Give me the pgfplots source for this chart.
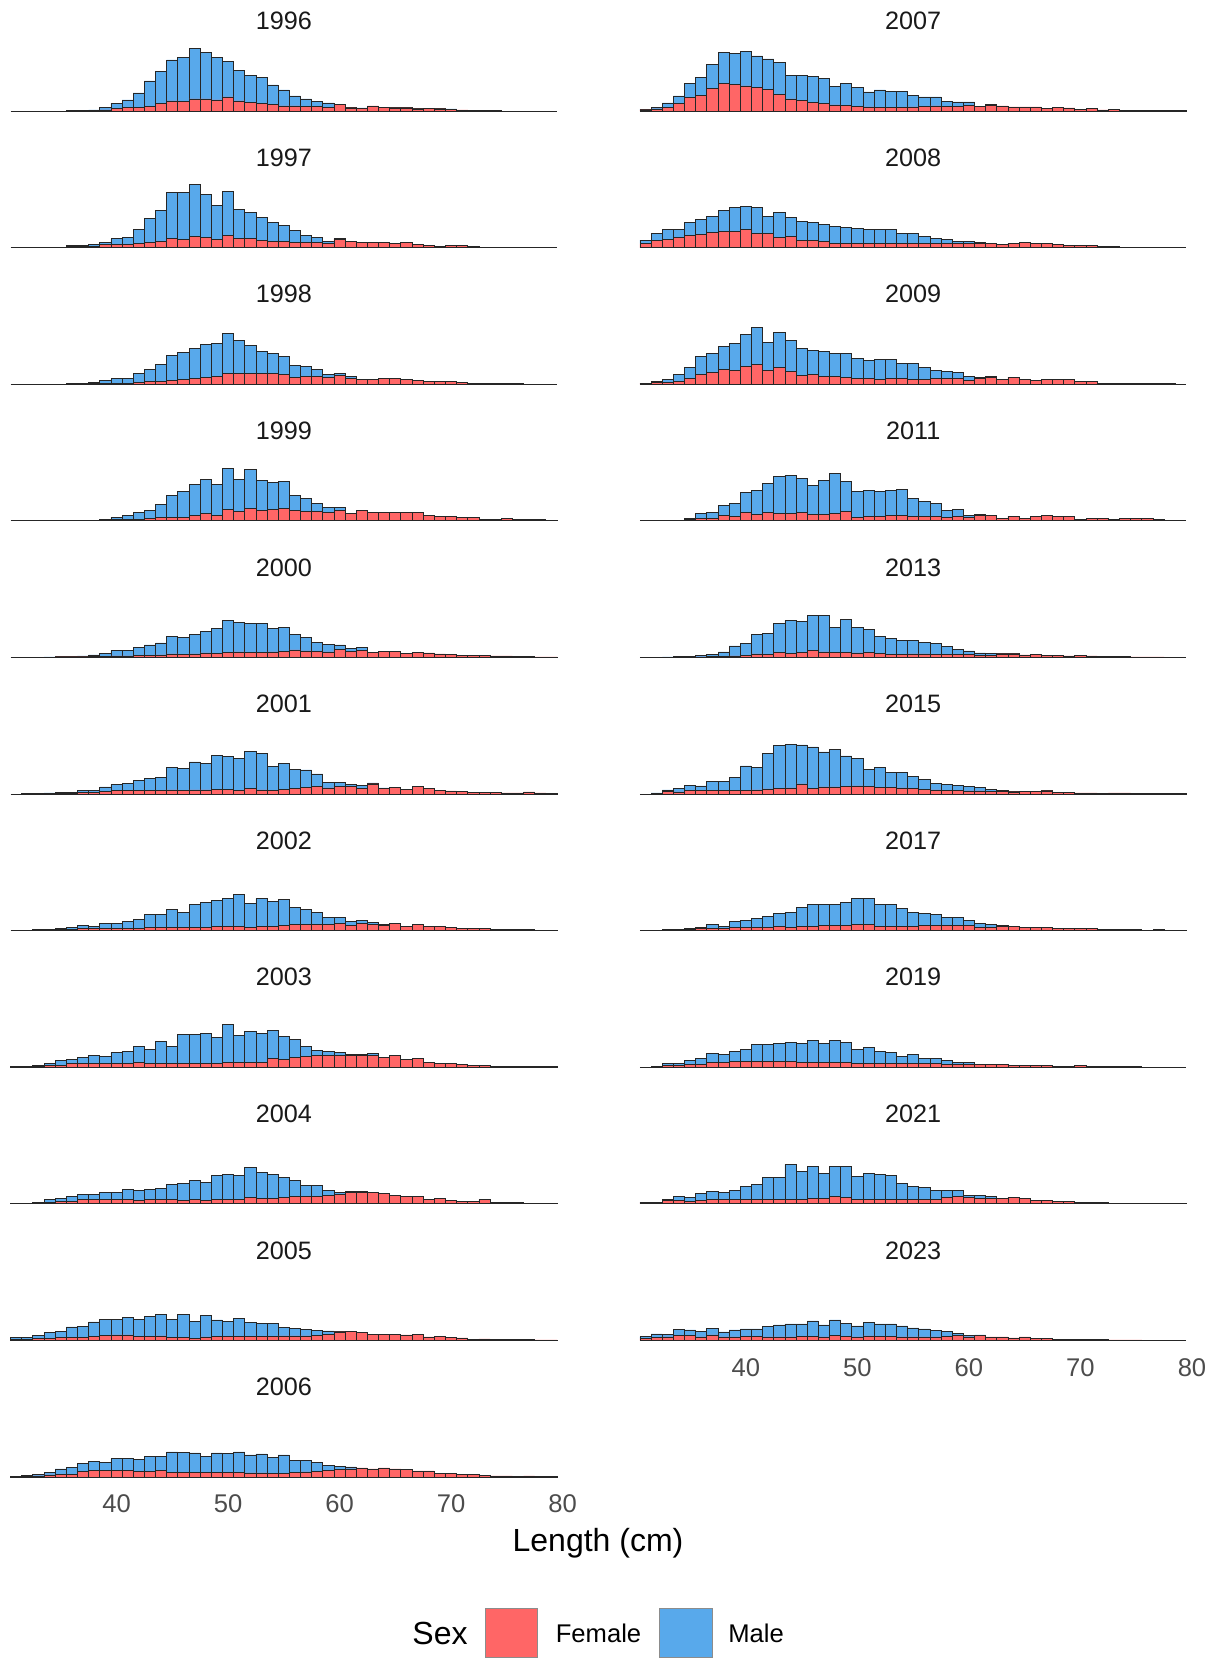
\documentclass[border=0pt]{standalone}
\usepackage{fontspec}
\setmainfont{Liberation Sans}
\usepackage{pgfplots}
\pgfplotsset{compat=1.18}
\usepackage{pgfplotstable}
\usepgfplotslibrary{groupplots}

\definecolor{fem}{HTML}{FF6666}
\definecolor{mal}{HTML}{58A9EB}
\definecolor{edge}{HTML}{262626}

% length bins (cm), female and male counts per bin (arbitrary units)
\pgfplotstableread[row sep=\\]{x f m\\
31 0 0\\32 0 0\\33 0 0\\34 0 0\\35 0 0\\36 0 1\\37 0 1\\38 0 3\\39 3 7\\40 8 15\\
41 10 23\\42 10 44\\43 13 77\\44 23 95\\45 30 123\\46 28 132\\47 36 152\\48 36 140\\49 33 127\\50 42 107\\
51 30 91\\52 25 81\\53 23 77\\54 20 58\\55 15 48\\56 15 30\\57 13 23\\58 13 15\\59 11 13\\60 19 0\\
61 9 2\\62 8 1\\63 15 0\\64 10 1\\65 9 1\\66 9 1\\67 6 1\\68 7 1\\69 6 1\\70 5 1\\
71 3 0\\72 2 0\\73 1 0\\74 1 0\\75 0 0\\76 0 0\\77 0 0\\78 0 0\\79 0 0\\
}\tabA
\pgfplotstableread[row sep=\\]{x f m\\
31 0 0\\32 0 0\\33 0 0\\34 0 0\\35 0 1\\36 2 3\\37 3 4\\38 4 6\\39 8 7\\40 10 16\\
41 10 20\\42 13 40\\43 16 72\\44 18 92\\45 27 139\\46 24 140\\47 34 154\\48 30 130\\49 24 102\\50 37 131\\
51 27 88\\52 27 79\\53 21 70\\54 18 56\\55 18 49\\56 16 34\\57 16 19\\58 15 14\\59 12 7\\60 25 2\\
61 17 2\\62 16 0\\63 16 0\\64 15 0\\65 12 0\\66 16 0\\67 8 0\\68 6 0\\69 4 0\\70 6 0\\
71 6 0\\72 2 0\\73 1 0\\74 1 0\\75 1 0\\76 1 0\\77 0 0\\78 0 0\\79 0 0\\
}\tabB
\pgfplotstableread[row sep=\\]{x f m\\
31 0 0\\32 0 0\\33 0 0\\34 0 0\\35 0 0\\36 0 1\\37 1 2\\38 1 4\\39 2 9\\40 3 13\\
41 3 15\\42 6 26\\43 7 36\\44 9 49\\45 11 76\\46 14 82\\47 17 91\\48 20 99\\49 22 101\\50 32 121\\
51 32 98\\52 32 84\\53 32 67\\54 32 61\\55 29 55\\56 20 35\\57 22 32\\58 24 20\\59 20 8\\60 26 7\\
61 18 6\\62 13 0\\63 13 0\\64 17 0\\65 16 0\\66 14 0\\67 11 0\\68 9 0\\69 7 0\\70 7 0\\
71 4 0\\72 3 0\\73 3 0\\74 2 0\\75 1 0\\76 1 0\\77 0 0\\78 0 0\\79 0 0\\
}\tabC
\pgfplotstableread[row sep=\\]{x f m\\
31 0 0\\32 0 0\\33 0 0\\34 0 0\\35 0 0\\36 0 0\\37 0 0\\38 0 1\\39 1 3\\40 3 7\\
41 4 11\\42 5 20\\43 8 24\\44 9 41\\45 10 65\\46 11 78\\47 15 93\\48 21 104\\49 17 92\\50 33 124\\
51 28 96\\52 38 117\\53 32 89\\54 33 83\\55 38 80\\56 31 46\\57 28 38\\58 27 25\\59 25 15\\60 30 10\\
61 23 0\\62 31 0\\63 26 0\\64 26 0\\65 24 0\\66 24 0\\67 24 0\\68 17 0\\69 14 0\\70 12 0\\
71 10 0\\72 9 0\\73 4 0\\74 4 0\\75 7 0\\76 3 0\\77 3 0\\78 3 0\\79 1 0\\
}\tabD
\pgfplotstableread[row sep=\\]{x f m\\
31 0 0\\32 0 0\\33 0 0\\34 0 1\\35 1 1\\36 1 2\\37 1 3\\38 2 5\\39 3 9\\40 4 17\\
41 4 17\\42 5 24\\43 6 31\\44 7 36\\45 10 52\\46 9 51\\47 10 58\\48 13 66\\49 11 75\\50 14 96\\
51 16 90\\52 14 88\\53 15 86\\54 16 70\\55 18 73\\56 22 47\\57 19 40\\58 17 28\\59 16 22\\60 24 13\\
61 17 10\\62 20 9\\63 15 0\\64 17 0\\65 17 0\\66 12 0\\67 14 0\\68 13 0\\69 10 0\\70 9 0\\
71 6 0\\72 6 0\\73 5 0\\74 4 0\\75 4 0\\76 2 0\\77 2 0\\78 1 0\\79 1 0\\
}\tabE
\pgfplotstableread[row sep=\\]{x f m\\
31 0 0\\32 1 0\\33 1 1\\34 2 1\\35 2 3\\36 2 3\\37 5 6\\38 5 6\\39 8 13\\40 11 18\\
41 11 20\\42 11 29\\43 11 36\\44 11 39\\45 12 68\\46 11 66\\47 12 84\\48 12 80\\49 13 103\\50 13 99\\
51 10 97\\52 17 111\\53 12 109\\54 11 71\\55 14 77\\56 17 56\\57 20 52\\58 22 38\\59 18 17\\60 23 12\\
61 22 6\\62 17 9\\63 30 3\\64 17 1\\65 19 0\\66 14 0\\67 22 0\\68 17 0\\69 11 0\\70 9 0\\
71 8 0\\72 5 0\\73 5 0\\74 4 0\\75 3 0\\76 3 0\\77 6 0\\78 3 0\\79 1 0\\
}\tabF
\pgfplotstableread[row sep=\\]{x f m\\
31 0 0\\32 0 1\\33 1 1\\34 2 1\\35 2 4\\36 3 5\\37 6 9\\38 6 7\\39 6 14\\40 5 15\\
41 6 21\\42 7 26\\43 10 38\\44 8 40\\45 10 53\\46 8 46\\47 10 69\\48 8 76\\49 11 80\\50 11 84\\
51 12 96\\52 9 71\\53 13 83\\54 13 75\\55 16 77\\56 18 50\\57 18 45\\58 18 36\\59 18 20\\60 20 18\\
61 15 12\\62 22 8\\63 18 7\\64 16 1\\65 21 0\\66 13 0\\67 18 0\\68 11 0\\69 11 0\\70 10 0\\
71 7 0\\72 5 0\\73 5 0\\74 4 0\\75 4 0\\76 3 0\\77 2 0\\78 1 0\\79 1 0\\
}\tabG
\pgfplotstableread[row sep=\\]{x f m\\
31 1 0\\32 2 1\\33 2 4\\34 4 6\\35 6 14\\36 10 14\\37 12 16\\38 12 23\\39 12 21\\40 12 32\\
41 12 34\\42 15 46\\43 12 41\\44 11 65\\45 10 53\\46 12 85\\47 12 85\\48 12 89\\49 11 78\\50 15 112\\
51 15 80\\52 15 91\\53 15 87\\54 25 84\\55 24 67\\56 30 54\\57 33 28\\58 35 16\\59 35 11\\60 35 8\\
61 35 3\\62 36 1\\63 36 5\\64 29 0\\65 35 0\\66 24 0\\67 26 0\\68 15 0\\69 12 0\\70 12 0\\
71 9 0\\72 4 0\\73 4 0\\74 3 0\\75 3 0\\76 3 0\\77 2 0\\78 2 0\\79 1 0\\
}\tabH
\pgfplotstableread[row sep=\\]{x f m\\
31 1 0\\32 1 1\\33 2 3\\34 5 7\\35 6 11\\36 8 13\\37 13 16\\38 13 16\\39 13 20\\40 13 22\\
41 13 29\\42 11 29\\43 13 29\\44 13 34\\45 13 45\\46 11 50\\47 12 59\\48 10 53\\49 14 72\\50 14 75\\
51 14 70\\52 19 89\\53 17 77\\54 17 72\\55 20 60\\56 23 47\\57 23 31\\58 23 33\\59 26 13\\60 28 7\\
61 33 4\\62 33 3\\63 33 0\\64 31 0\\65 25 0\\66 21 0\\67 23 0\\68 14 0\\69 15 0\\70 11 0\\
71 8 0\\72 7 0\\73 12 0\\74 5 0\\75 3 0\\76 3 0\\77 2 0\\78 2 0\\79 1 0\\
}\tabI
\pgfplotstableread[row sep=\\]{x f m\\
31 2 6\\32 3 6\\33 5 10\\34 5 18\\35 8 19\\36 9 31\\37 9 33\\38 11 44\\39 15 48\\40 16 47\\
41 16 52\\42 11 51\\43 12 59\\44 13 65\\45 9 54\\46 9 68\\47 5 52\\48 10 66\\49 11 50\\50 11 46\\
51 11 54\\52 12 41\\53 11 40\\54 11 39\\55 13 25\\56 13 23\\57 13 19\\58 15 15\\59 18 10\\60 25 1\\
61 26 0\\62 23 0\\63 18 0\\64 18 0\\65 18 0\\66 16 0\\67 18 0\\68 10 0\\69 12 0\\70 8 0\\
71 7 0\\72 3 0\\73 4 0\\74 3 0\\75 3 0\\76 3 0\\77 2 0\\78 1 0\\79 1 0\\
}\tabJ
\pgfplotstableread[row sep=\\]{x f m\\
31 1 1\\32 2 2\\33 3 4\\34 6 8\\35 8 16\\36 8 20\\37 17 23\\38 19 28\\39 19 25\\40 19 36\\
41 19 36\\42 17 36\\43 17 44\\44 20 41\\45 14 61\\46 14 60\\47 14 58\\48 13 49\\49 13 59\\50 13 57\\
51 13 62\\52 12 54\\53 12 57\\54 11 47\\55 10 56\\56 13 36\\57 15 34\\58 16 28\\59 20 14\\60 23 8\\
61 24 6\\62 27 0\\63 24 0\\64 27 0\\65 24 0\\66 22 0\\67 18 0\\68 18 0\\69 11 0\\70 11 0\\
71 7 0\\72 7 0\\73 4 0\\74 3 0\\75 3 0\\76 2 0\\77 3 0\\78 2 0\\79 1 0\\
}\tabK
\pgfplotstableread[row sep=\\]{x f m\\
31 3 2\\32 6 5\\33 11 13\\34 22 23\\35 40 42\\36 47 54\\37 67 73\\38 82 93\\39 79 94\\40 75 103\\
41 71 94\\42 65 91\\43 50 95\\44 36 71\\45 32 74\\46 26 78\\47 23 75\\48 18 56\\49 16 66\\50 13 58\\
51 12 45\\52 11 52\\53 11 47\\54 11 47\\55 12 35\\56 13 29\\57 15 27\\58 14 14\\59 14 13\\60 16 11\\
61 14 0\\62 17 3\\63 15 0\\64 12 0\\65 12 0\\66 12 0\\67 8 0\\68 10 0\\69 9 0\\70 5 0\\
71 7 0\\72 3 0\\73 4 0\\74 2 0\\75 2 0\\76 1 0\\77 1 0\\78 1 0\\79 1 0\\
}\tabL
\pgfplotstableread[row sep=\\]{x f m\\
31 12 10\\32 22 20\\33 25 30\\34 31 23\\35 37 39\\36 40 45\\37 44 50\\38 47 65\\39 47 74\\40 53 70\\
41 43 77\\42 43 51\\43 30 76\\44 32 57\\45 21 57\\46 21 53\\47 19 51\\48 13 50\\49 13 48\\50 12 45\\
51 12 42\\52 12 42\\53 12 42\\54 12 31\\55 12 31\\56 12 22\\57 12 15\\58 12 13\\59 11 8\\60 13 4\\
61 13 3\\62 13 0\\63 10 0\\64 13 0\\65 16 0\\66 11 0\\67 11 0\\68 8 0\\69 7 0\\70 6 0\\
71 5 0\\72 3 0\\73 2 0\\74 1 0\\75 1 0\\76 1 0\\77 0 0\\78 0 0\\79 0 0\\
}\tabM
\pgfplotstableread[row sep=\\]{x f m\\
31 2 1\\32 5 4\\33 6 9\\34 8 21\\35 18 32\\36 28 55\\37 35 58\\38 43 71\\39 41 80\\40 53 95\\
41 60 111\\42 41 83\\43 50 105\\44 39 93\\45 26 81\\46 29 73\\47 22 76\\48 22 71\\49 20 73\\50 17 61\\
51 17 54\\52 15 59\\53 16 58\\54 16 47\\55 15 46\\56 15 36\\57 16 25\\58 16 22\\59 17 18\\60 12 11\\
61 16 3\\62 20 4\\63 14 0\\64 21 0\\65 15 0\\66 12 0\\67 14 0\\68 13 0\\69 13 0\\70 7 0\\
71 8 0\\72 3 0\\73 3 0\\74 2 0\\75 2 0\\76 1 0\\77 1 0\\78 1 0\\79 0 0\\
}\tabN
\pgfplotstableread[row sep=\\]{x f m\\
31 0 0\\32 0 0\\33 0 1\\34 1 1\\35 3 4\\36 6 15\\37 6 18\\38 15 32\\39 13 40\\40 25 60\\
41 18 74\\42 26 85\\43 22 111\\44 23 114\\45 26 100\\46 20 87\\47 20 102\\48 23 119\\49 27 90\\50 11 78\\
51 14 76\\52 14 74\\53 16 76\\54 16 78\\55 13 55\\56 12 45\\57 12 40\\58 10 20\\59 12 22\\60 11 6\\
61 17 1\\62 17 0\\63 7 0\\64 14 0\\65 8 0\\66 14 0\\67 16 0\\68 13 0\\69 12 0\\70 5 0\\
71 7 0\\72 8 0\\73 4 0\\74 6 0\\75 6 0\\76 6 0\\77 5 0\\78 2 0\\79 0 0\\
}\tabO
\pgfplotstableread[row sep=\\]{x f m\\
31 0 0\\32 0 0\\33 0 1\\34 0 2\\35 0 3\\36 1 5\\37 2 7\\38 3 13\\39 4 30\\40 6 36\\
41 10 58\\42 8 65\\43 15 88\\44 12 98\\45 14 95\\46 20 107\\47 16 109\\48 14 75\\49 15 98\\50 13 76\\
51 14 69\\52 12 50\\53 9 49\\54 9 43\\55 10 40\\56 10 35\\57 8 33\\58 8 25\\59 9 14\\60 9 10\\
61 6 7\\62 6 5\\63 10 1\\64 10 1\\65 7 0\\66 9 0\\67 6 0\\68 6 0\\69 4 0\\70 5 0\\
71 4 0\\72 3 0\\73 2 0\\74 2 0\\75 1 0\\76 1 0\\77 1 0\\78 0 0\\79 0 0\\
}\tabP
\pgfplotstableread[row sep=\\]{x f m\\
31 0 0\\32 1 2\\33 7 5\\34 6 10\\35 10 16\\36 10 14\\37 10 27\\38 10 28\\39 10 39\\40 11 73\\
41 12 68\\42 15 107\\43 17 128\\44 18 131\\45 30 117\\46 17 124\\47 21 105\\48 21 112\\49 22 92\\50 24 82\\
51 23 50\\52 20 59\\53 20 44\\54 18 46\\55 16 36\\56 13 30\\57 12 19\\58 10 18\\59 10 16\\60 9 14\\
61 9 10\\62 8 6\\63 7 3\\64 6 2\\65 7 0\\66 7 0\\67 9 1\\68 5 0\\69 4 0\\70 3 0\\
71 3 0\\72 2 0\\73 3 0\\74 3 0\\75 2 0\\76 2 0\\77 2 0\\78 2 0\\79 1 0\\
}\tabQ
\pgfplotstableread[row sep=\\]{x f m\\
31 0 0\\32 0 0\\33 1 1\\34 2 1\\35 3 2\\36 5 5\\37 6 11\\38 5 8\\39 9 18\\40 10 21\\
41 9 28\\42 9 34\\43 12 38\\44 10 45\\45 13 55\\46 13 64\\47 16 61\\48 14 63\\49 14 70\\50 17 78\\
51 17 78\\52 13 64\\53 13 64\\54 13 53\\55 13 41\\56 15 37\\57 16 31\\58 14 26\\59 14 25\\60 15 16\\
61 10 10\\62 10 7\\63 12 2\\64 12 0\\65 9 0\\66 8 0\\67 8 0\\68 5 0\\69 5 0\\70 5 0\\
71 5 0\\72 3 0\\73 2 0\\74 2 0\\75 2 0\\76 1 0\\77 2 0\\78 1 0\\79 1 0\\
}\tabR
\pgfplotstableread[row sep=\\]{x f m\\
31 0 0\\32 1 1\\33 4 6\\34 5 7\\35 8 12\\36 8 19\\37 13 28\\38 13 24\\39 16 31\\40 16 37\\
41 16 53\\42 16 53\\43 16 55\\44 16 59\\45 14 58\\46 15 66\\47 15 57\\48 14 65\\49 14 61\\50 12 40\\
51 12 47\\52 11 36\\53 11 34\\54 11 20\\55 11 27\\56 10 16\\57 10 16\\58 9 12\\59 9 6\\60 8 5\\
61 9 0\\62 7 0\\63 7 0\\64 6 0\\65 5 0\\66 5 0\\67 4 0\\68 3 0\\69 3 0\\70 4 0\\
71 2 0\\72 1 0\\73 1 0\\74 1 0\\75 1 0\\76 0 0\\77 0 0\\78 0 0\\79 0 0\\
}\tabS
\pgfplotstableread[row sep=\\]{x f m\\
31 3 2\\32 2 3\\33 9 4\\34 11 12\\35 8 11\\36 11 20\\37 13 23\\38 12 22\\39 13 27\\40 13 38\\
41 14 43\\42 14 64\\43 14 64\\44 13 105\\45 13 83\\46 16 97\\47 16 74\\48 23 90\\49 20 91\\50 13 70\\
51 14 76\\52 14 73\\53 14 71\\54 14 48\\55 14 39\\56 14 36\\57 14 25\\58 18 21\\59 22 17\\60 18 8\\
61 17 8\\62 17 5\\63 15 0\\64 19 0\\65 17 0\\66 10 0\\67 9 0\\68 7 0\\69 6 0\\70 4 0\\
71 3 0\\72 3 0\\73 2 0\\74 1 0\\75 1 0\\76 1 0\\77 1 0\\78 1 0\\79 1 0\\
}\tabT
\pgfplotstableread[row sep=\\]{x f m\\
31 6 5\\32 9 10\\33 10 8\\34 15 17\\35 14 17\\36 10 16\\37 16 20\\38 10 15\\39 10 21\\40 11 23\\
41 11 23\\42 10 31\\43 10 36\\44 10 39\\45 11 38\\46 12 46\\47 10 36\\48 14 47\\49 11 40\\50 10 33\\
51 13 40\\52 11 38\\53 11 38\\54 10 33\\55 10 27\\56 10 24\\57 10 19\\58 11 15\\59 14 7\\60 10 4\\
61 15 1\\62 10 0\\63 10 0\\64 7 0\\65 10 0\\66 6 0\\67 6 0\\68 3 0\\69 3 0\\70 2 0\\
71 2 0\\72 2 0\\73 1 0\\74 1 0\\75 1 0\\76 0 0\\77 0 0\\78 0 0\\79 0 0\\
}\tabU

% one facet: zero line over the binned range, female at the bottom, male stacked on top
\newcommand{\panel}[3][]{%
  \nextgroupplot[title={#2},#1]
  \addplot[sharp plot, stack plots=false, forget plot, draw=edge, line width=0.4pt] coordinates {(30.5,0) (79.5,0)};
  \addplot[fill=fem] table[x=x,y=f]{#3};
  \addplot[fill=mal] table[x=x,y=m]{#3};
}

\begin{document}
\begin{tikzpicture}
\begin{groupplot}[
  group style={group size=2 by 11, horizontal sep=35.9pt, vertical sep=33.4pt, group name=G},
  width=278.8pt, height=34.9pt, scale only axis,
  xmin=30, xmax=80, ymin=-9.5, ymax=200,
  ybar stacked, /pgf/bar width=1,
  axis line style={draw=none}, major tick length=0pt,
  ytick=\empty, xtick={40,50,60,70,80}, xticklabels={},
  every axis plot/.append style={draw=edge, line width=0.4pt},
  title style={font=\fontsize{12.6}{15}\selectfont, text=black!90, at={(0.5,1)}, anchor=center, yshift=5.6pt},
  xticklabel style={font=\fontsize{12.8}{15}\selectfont, text=black!70, anchor=center, yshift=-12pt},
]
\panel{1996}{\tabA}
\panel{2007}{\tabL}
\panel{1997}{\tabB}
\panel{2008}{\tabM}
\panel{1998}{\tabC}
\panel{2009}{\tabN}
\panel{1999}{\tabD}
\panel{2011}{\tabO}
\panel{2000}{\tabE}
\panel{2013}{\tabP}
\panel{2001}{\tabF}
\panel{2015}{\tabQ}
\panel{2002}{\tabG}
\panel{2017}{\tabR}
\panel{2003}{\tabH}
\panel{2019}{\tabS}
\panel{2004}{\tabI}
\panel{2021}{\tabT}
\panel{2005}{\tabJ}
\panel[xticklabels={40,50,60,70,80}]{2023}{\tabU}
\panel[xticklabels={40,50,60,70,80}]{2006}{\tabK}
\end{groupplot}

\coordinate (TL) at ([xshift=-2.5pt,yshift=22.15pt]G c1r1.north west);
\node[font=\fontsize{16}{19}\selectfont] at ([xshift=299pt,yshift=-771.5pt]TL) {Length (cm)};
\node[font=\fontsize{16}{19}\selectfont] at ([xshift=220pt,yshift=-816.5pt]TL) {Sex};
\draw[fill=fem, draw=black!45, line width=0.4pt] ([xshift=242.5pt,yshift=-804pt]TL) rectangle ([xshift=268.5pt,yshift=-828.7pt]TL);
\node[font=\fontsize{12.8}{15}\selectfont] at ([xshift=299.25pt,yshift=-816.5pt]TL) {Female};
\draw[fill=mal, draw=black!45, line width=0.4pt] ([xshift=329.5pt,yshift=-804pt]TL) rectangle ([xshift=356pt,yshift=-828.7pt]TL);
\node[font=\fontsize{12.8}{15}\selectfont] at ([xshift=378pt,yshift=-816.5pt]TL) {Male};
\pgfresetboundingbox
\path[use as bounding box] (TL) rectangle ([xshift=609pt,yshift=-829pt]TL);
\end{tikzpicture}
\end{document}
